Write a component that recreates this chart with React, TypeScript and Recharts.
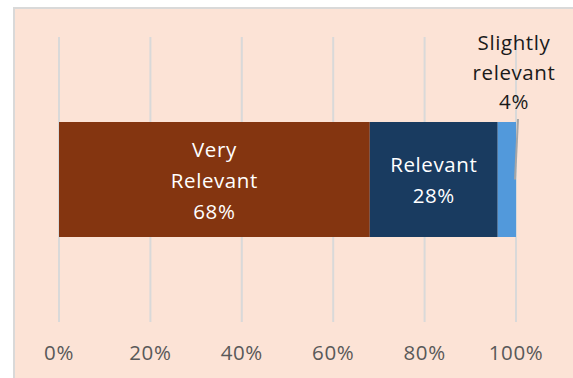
import { BarChart, Bar, XAxis, YAxis, CartesianGrid, LabelList } from "recharts"

const categories = ["Relevance"]
const veryRelevant = [68]
const relevant = [28]
const slightlyRelevant = [4]
const xTicks = [0, 20, 40, 60, 80, 100]

const data = categories.map((name, i) => ({
  name,
  veryRelevant: veryRelevant[i],
  relevant: relevant[i],
  slightlyRelevant: slightlyRelevant[i],
}))

const FONT = "'Open Sans', 'Noto Sans', sans-serif"
const FS = 20.5
const LS = 0.6

function insideLabel(lines: string[]) {
  return (props: any) => {
    const { x, y, width, height } = props
    const cx = x + width / 2
    const cy = y + height / 2
    const lh = 31
    const start = cy - ((lines.length - 1) * lh) / 2
    return (
      <g>
        {lines.map((t, i) => (
          <text
            key={i}
            x={cx}
            y={start + i * lh}
            textAnchor="middle"
            dominantBaseline="central"
            fill="#ffffff"
            fontSize={FS}
            letterSpacing={LS}
            fontFamily={FONT}
          >
            {t}
          </text>
        ))}
      </g>
    )
  }
}

function outsideLabel(props: any) {
  const { x, y, width, height, value } = props
  const right = x + width
  const cx = right - 2
  const lines = ["Slightly", "relevant", `${value}%`]
  return (
    <g>
      <line x1={right + 2} y1={y - 3} x2={right - 1} y2={y + height / 2} stroke="#a6a6a6" strokeWidth={2} />
      {lines.map((t, i) => (
        <text
          key={i}
          x={cx}
          y={y - 80 + i * 29.5}
          textAnchor="middle"
          dominantBaseline="central"
          fill="#1a1a1a"
          fontSize={FS}
          letterSpacing={LS}
          fontFamily={FONT}
        >
          {t}
        </text>
      ))}
    </g>
  )
}

export default function App() {
  return (
    <div
      style={{
        position: "absolute",
        left: 13,
        top: 7,
        width: 560,
        height: 371,
        background: "#FCE3D6",
        borderLeft: "2px solid #d9d9d9",
        borderTop: "2px solid #d9d9d9",
        boxSizing: "border-box",
      }}
    >
      <div style={{ position: "absolute", left: -2, top: -2 }}>
        <BarChart
          width={560}
          height={371}
          data={data}
          layout="vertical"
          margin={{ top: 30, right: 57, bottom: 0, left: 46 }}
        >
          <CartesianGrid horizontal={false} stroke="#d9d9d9" strokeWidth={2} />
          <XAxis
            type="number"
            domain={[0, 100]}
            ticks={xTicks}
            tickFormatter={(v: number) => `${v}%`}
            axisLine={false}
            tickLine={false}
            tickSize={0}
            tickMargin={23}
            height={56}
            interval={0}
            tick={{ fill: "#595959", fontSize: FS, letterSpacing: LS, fontFamily: FONT }}
          />
          <YAxis type="category" dataKey="name" hide />
          <Bar dataKey="veryRelevant" stackId="a" fill="#843510" barSize={115} isAnimationActive={false}>
            <LabelList dataKey="veryRelevant" content={insideLabel(["Very", "Relevant", "68%"])} />
          </Bar>
          <Bar dataKey="relevant" stackId="a" fill="#193B60" barSize={115} isAnimationActive={false}>
            <LabelList dataKey="relevant" content={insideLabel(["Relevant", "28%"])} />
          </Bar>
          <Bar dataKey="slightlyRelevant" stackId="a" fill="#5299DB" barSize={115} isAnimationActive={false}>
            <LabelList dataKey="slightlyRelevant" content={outsideLabel} />
          </Bar>
        </BarChart>
      </div>
    </div>
  )
}
